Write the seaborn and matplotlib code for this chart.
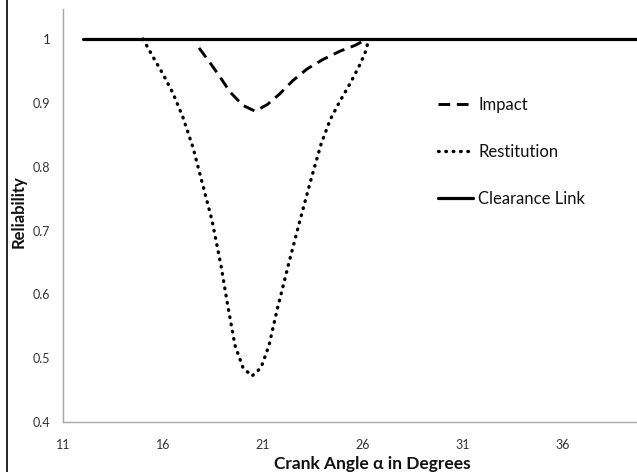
import matplotlib
matplotlib.use("Agg")
import matplotlib.pyplot as plt
from matplotlib.lines import Line2D
import seaborn as sns
import pandas as pd

# ---- data ----
impact_x = [17.8, 18.3, 18.8, 19.35, 20.0, 20.6, 21.2, 21.8, 22.5, 23.2, 24.0, 24.85, 25.6, 26.2]
impact_y = [0.986, 0.965, 0.943, 0.917, 0.896, 0.887, 0.897, 0.913, 0.935, 0.953, 0.968, 0.981, 0.99, 1.0]

restitution_x = [15.0, 15.5, 16.0, 16.5, 17.0, 17.5, 18.0, 18.45, 18.9, 19.25, 19.6, 20.0, 20.45,
                 20.9, 21.3, 21.7, 22.3, 22.85, 23.4, 23.9, 24.35, 24.8, 25.35, 25.8, 26.1, 26.3]
restitution_y = [1.0, 0.972, 0.945, 0.915, 0.877, 0.83, 0.77, 0.716, 0.645, 0.58, 0.52, 0.485, 0.472,
                 0.485, 0.52, 0.575, 0.65, 0.716, 0.78, 0.835, 0.873, 0.9, 0.93, 0.957, 0.978, 1.0]

clearance_x = [12, 20, 30, 40, 42]
clearance_y = [1.0, 1.0, 1.0, 1.0, 1.0]

x_ticks = [11, 16, 21, 26, 31, 36]
y_ticks = [0.4, 0.5, 0.6, 0.7, 0.8, 0.9, 1.0]
y_tick_labels = ["0.4", "0.5", "0.6", "0.7", "0.8", "0.9", "1"]

sns.set_theme(style="white")
plt.rcParams["font.family"] = ["Lato", "DejaVu Sans"]

fig = plt.figure(figsize=(6.37, 4.72), dpi=100)
ax = fig.add_axes([63 / 637, 1 - 422 / 472, 618 / 637, 413 / 472])

df_imp = pd.DataFrame({"x": impact_x, "y": impact_y})
df_res = pd.DataFrame({"x": restitution_x, "y": restitution_y})
df_clr = pd.DataFrame({"x": clearance_x, "y": clearance_y})

sns.lineplot(data=df_imp, x="x", y="y", ax=ax, color="black", lw=2.1, sort=False,
             estimator=None, label="Impact")
sns.lineplot(data=df_res, x="x", y="y", ax=ax, color="black", lw=2.4, sort=False,
             estimator=None, label="Restitution")
sns.lineplot(data=df_clr, x="x", y="y", ax=ax, color="black", lw=2.3, sort=False,
             estimator=None, label="Clearance Link")

lines = ax.get_lines()
lines[0].set_dashes((4, 2.3))
lines[0].set_dash_capstyle("butt")
lines[1].set_dashes((0.2, 2.0))
lines[1].set_dash_capstyle("round")

ax.set_xlim(11, 41.9)
ax.set_ylim(0.4, 1.047)
ax.set_xticks(x_ticks)
ax.set_xticklabels([str(t) for t in x_ticks])
ax.set_yticks(y_ticks)
ax.set_yticklabels(y_tick_labels)

for s in ["top", "right"]:
    ax.spines[s].set_visible(False)
for s in ["left", "bottom"]:
    ax.spines[s].set_color("#a6a6a6")
    ax.spines[s].set_linewidth(1.0)

ax.tick_params(axis="both", which="major", length=4, width=1.0, color="#a6a6a6",
               direction="out", labelsize=9, labelcolor="#333333")
ax.tick_params(axis="x", pad=8)
ax.tick_params(axis="y", pad=5)
for lab in ax.get_yticklabels():
    if lab.get_text() == "1":
        lab.set_fontsize(10)

ax.set_xlabel("Crank Angle α in Degrees", fontsize=12.5, fontweight="bold",
              color="#111111", labelpad=4)
ax.set_ylabel("Reliability", fontsize=12, fontweight="bold", color="#111111")
ax.yaxis.label.set_verticalalignment("center")
ax.yaxis.set_label_coords(19 / 637, 1 - 212 / 472, transform=fig.transFigure)

handles, labels = ax.get_legend_handles_labels()
leg = ax.legend(handles, labels, frameon=False, loc="upper left",
                bbox_to_anchor=(423 / 637, 1 - 82 / 472), bbox_transform=fig.transFigure,
                fontsize=12, handlelength=2.1, handletextpad=0.3, labelspacing=1.85)
for t in leg.get_texts():
    t.set_color("#111111")

fig.add_artist(Line2D([7 / 637, 7 / 637], [0, 1], transform=fig.transFigure,
                      color="black", lw=1.2))

fig.savefig("out.png", dpi=100)
